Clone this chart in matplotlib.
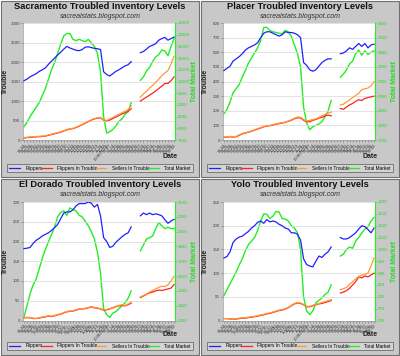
import numpy as np
import matplotlib
matplotlib.use("Agg")
import matplotlib.pyplot as plt
from matplotlib.patches import Rectangle
from matplotlib.lines import Line2D

plt.rcParams['font.family'] = ['Liberation Sans', 'DejaVu Sans']

N = np.nan
dates = ["06-04", "06-11", "06-18", "06-25", "07-02", "07-09", "07-16", "07-23", "07-30", "08-06",
         "08-13", "08-20", "08-27", "09-03", "09-10", "09-17", "09-24", "10-01", "10-08", "10-15",
         "10-22", "10-29", "11-05", "11-12", "11-19", "11-26", "12-03", "2008-01-01", "01-07", "01-14",
         "01-21", "01-28", "02-04", "02-11", "02-18", "02-25", "03-03", "03-10", "03-17", "03-24",
         "03-31", "04-07", "04-14", "04-21", "04-28", "05-05", "05-12", "05-19", "05-26", "06-02"]

# ---------------- Sacramento ----------------
sac_flippers = [1520, 1560, 1620, 1660, 1700, 1760, 1800, 1850, 1940, 2020,
                2100, 2180, 2250, 2330, 2400, 2360, 2330, 2300, 2290, 2320,
                2380, 2390, 2370, 2350, 2340, 2320, 1750, 1680, 1640, 1700,
                1760, 1800, 1850, 1900, 1930, 2010, N, N, 2240, 2270,
                2330, 2400, 2430, 2470, 2560, 2600, 2630, 2560, 2600, 2640]
sac_flip_trouble = [50, 60, 70, 75, 80, 85, 90, 100, 120, 140,
                    160, 180, 200, 230, 260, 280, 290, 320, 350, 390,
                    430, 470, 510, 540, 560, 570, 510, 490, 510, 550,
                    590, 630, 670, 700, 740, 800, N, N, 1000, 1050,
                    1100, 1150, 1200, 1260, 1320, 1380, 1450, 1450, 1520, 1620]
sac_sell_trouble = [60, 70, 80, 85, 90, 95, 100, 110, 130, 150,
                    170, 190, 210, 240, 270, 290, 300, 330, 360, 400,
                    440, 480, 520, 550, 570, 580, 520, 500, 540, 580,
                    620, 660, 700, 740, 780, 870, N, N, 1100, 1180,
                    1250, 1330, 1400, 1480, 1560, 1650, 1720, 1780, 1950, 2150]
sac_total = [8070, 8250, 8500, 8700, 8900, 9100, 9400, 9700, 10100, 10500,
             10800, 11200, 11600, 11950, 12050, 12050, 11800, 11750, 11800, 11750,
             11700, 11800, 11650, 11500, 11200, 10400, 8500, 7800, 7850, 7950,
             8100, 8300, 8400, 8600, 8700, 9100, N, N, 10050, 10200,
             10450, 10600, 10850, 11050, 11150, 11350, 11300, 11100, 11500, 11850]

# ---------------- Placer ----------------
pla_flippers = [475, 490, 505, 540, 555, 570, 590, 615, 630, 640,
                650, 665, 700, 730, 740, 740, 730, 720, 710, 720,
                740, 735, 735, 730, 720, 700, 530, 510, 480, 470,
                480, 505, 530, 545, 555, 555, N, N, 590, 595,
                610, 630, 620, 640, 660, 640, 660, 630, 650, 655]
pla_flip_trouble = [18, 20, 22, 20, 22, 32, 42, 48, 53, 60,
                    68, 75, 82, 90, 95, 98, 102, 108, 112, 116,
                    120, 128, 135, 145, 152, 150, 135, 125, 125, 135,
                    140, 150, 155, 165, 170, 165, N, N, 215, 210,
                    225, 240, 250, 265, 275, 270, 285, 290, 295, 300]
pla_sell_trouble = [20, 22, 25, 22, 25, 35, 45, 50, 55, 62,
                    70, 78, 85, 92, 98, 100, 105, 110, 115, 118,
                    122, 130, 138, 148, 158, 155, 140, 130, 135, 140,
                    145, 155, 165, 175, 185, 190, N, N, 240, 245,
                    260, 275, 290, 305, 320, 345, 350, 355, 370, 400]
pla_total = [2560, 2620, 2720, 2850, 2900, 2960, 3060, 3150, 3250, 3320,
             3390, 3460, 3560, 3740, 3740, 3700, 3680, 3670, 3660, 3650,
             3700, 3680, 3620, 3500, 3380, 3200, 2650, 2430, 2340, 2380,
             2400, 2420, 2450, 2520, 2600, 2740, N, N, 3060, 3100,
             3160, 3240, 3280, 3380, 3430, 3360, 3420, 3370, 3400, 3420]

# ---------------- El Dorado ----------------
eld_flippers = [182, 183, 185, 195, 203, 208, 214, 218, 222, 228,
                235, 243, 258, 272, 275, 275, 280, 290, 296, 296,
                296, 300, 297, 287, 294, 265, 210, 200, 185, 188,
                198, 205, 212, 218, 222, 237, N, N, 265, 272,
                268, 272, 268, 270, 268, 265, 255, 246, 252, 256]
eld_flip_trouble = [7, 7, 7, 5, 5, 6, 8, 9, 11, 10,
                    12, 14, 16, 19, 22, 23, 24, 26, 29, 29,
                    30, 32, 34, 32, 31, 29, 26, 27, 29, 32,
                    35, 37, 38, 37, 40, 44, N, N, 58, 62,
                    66, 70, 72, 75, 77, 76, 78, 80, 82, 91]
eld_sell_trouble = [8, 8, 8, 6, 5, 7, 9, 10, 12, 11,
                    13, 15, 17, 20, 23, 24, 25, 27, 30, 30,
                    31, 33, 35, 33, 32, 30, 27, 28, 30, 33,
                    36, 38, 40, 38, 42, 46, N, N, 60, 63,
                    67, 72, 76, 80, 84, 87, 86, 90, 100, 112]
eld_total = [1320, 1400, 1480, 1540, 1580, 1650, 1720, 1780, 1830, 1880,
             1930, 2000, 2030, 2040, 2010, 2060, 2050, 2040, 2010, 2000,
             1970, 1940, 1900, 1850, 1760, 1620, 1380, 1340, 1320, 1350,
             1360, 1380, 1400, 1420, 1450, 1500, N, N, 1770, 1810,
             1850, 1860, 1870, 1920, 1960, 1940, 1920, 1930, 1920, 1920]

# ---------------- Yolo ----------------
yol_flippers = [132, 135, 145, 165, 172, 176, 178, 183, 188, 195,
                200, 207, 210, 205, 213, 208, 210, 208, 203, 200,
                195, 193, 185, 185, 182, 170, 130, 118, 115, 113,
                125, 136, 133, 140, 145, 155, N, N, 175, 172,
                172, 175, 180, 185, 193, 200, 198, 192, 185, 195]
yol_flip_trouble = [4, 4, 3, 3, 3, 4, 5, 5, 6, 7,
                    8, 9, 11, 12, 14, 15, 17, 19, 21, 22,
                    24, 27, 31, 35, 37, 36, 33, 29, 29, 31,
                    33, 35, 36, 38, 40, 42, N, N, 58, 60,
                    63, 68, 75, 82, 92, 90, 94, 92, 96, 100]
yol_sell_trouble = [4, 4, 3, 3, 4, 5, 6, 6, 7, 8,
                    9, 10, 12, 13, 15, 16, 18, 20, 22, 23,
                    25, 28, 32, 36, 38, 37, 34, 30, 30, 32,
                    34, 36, 38, 40, 42, 44, N, N, 65, 67,
                    70, 76, 82, 88, 93, 96, 97, 100, 115, 132]
yol_total = [805, 830, 855, 880, 905, 935, 960, 995, 1020, 1035,
             1050, 1080, 1120, 1150, 1148, 1130, 1140, 1160, 1158, 1130,
             1128, 1120, 1100, 1090, 1070, 1000, 800, 740, 725, 740,
             775, 785, 795, 810, 820, 850, N, N, 972, 980,
             1000, 1010, 1005, 1035, 1050, 1070, 1085, 1095, 1120, 1135]

panels = [
    dict(title="Sacramento Troubled Inventory Levels", ox=0, oy=0,
         fl=sac_flippers, ft=sac_flip_trouble, st=sac_sell_trouble, tm=sac_total,
         lticks=np.arange(0, 3001, 500), rticks=np.arange(7500, 12501, 500),
         top=23, bot=140),
    dict(title="Placer Troubled Inventory Levels", ox=200, oy=0,
         fl=pla_flippers, ft=pla_flip_trouble, st=pla_sell_trouble, tm=pla_total,
         lticks=np.arange(0, 801, 100), rticks=np.arange(2200, 3801, 200),
         top=23, bot=140),
    dict(title="El Dorado Troubled Inventory Levels", ox=0, oy=178,
         fl=eld_flippers, ft=eld_flip_trouble, st=eld_sell_trouble, tm=eld_total,
         lticks=np.arange(0, 301, 50), rticks=np.arange(1300, 2101, 100),
         top=24, bot=142.5),
    dict(title="Yolo Troubled Inventory Levels", ox=200, oy=178,
         fl=yol_flippers, ft=yol_flip_trouble, st=yol_sell_trouble, tm=yol_total,
         lticks=np.arange(0, 251, 50), rticks=np.arange(700, 1201, 50),
         top=24, bot=142.5),
]

W, H = 400, 356
fig = plt.figure(figsize=(W / 100, H / 100), dpi=100)
fig.patch.set_facecolor('white')

C_BLUE = '#2020ff'
C_RED = '#ff2020'
C_ORANGE = '#ff9933'
C_GREEN = '#22ee22'
C_TM_TXT = '#22dd22'


def fx(px):
    return px / W


def fy(py):
    return 1 - py / H


x = np.arange(len(dates))

for p in panels:
    ox, oy = p['ox'], p['oy']
    fig.add_artist(Rectangle((fx(ox + 1), fy(oy + 177)), 198 / W, 176 / H,
                             transform=fig.transFigure, facecolor='#c8c8c8',
                             edgecolor='#707070', linewidth=0.8, zorder=0))
    fig.text(fx(ox + 100), fy(oy + 6.5), p['title'], ha='center', va='center',
             fontsize=6.7, fontweight='bold', color='#111111')
    fig.text(fx(ox + 100), fy(oy + 16), "sacrealstats.blogspot.com", ha='center', va='center',
             fontsize=5.0, style='italic', color='#333333')

    left, right = ox + 23, ox + 175
    top, bot = oy + p['top'], oy + p['bot']
    ax = fig.add_axes([fx(left), fy(bot), (right - left) / W, (bot - top) / H])
    ax2 = ax.twinx()
    ax2.set_zorder(1)
    ax.set_zorder(2)
    ax.patch.set_visible(False)
    ax2.patch.set_visible(True)
    ax2.patch.set_facecolor('white')

    ax.plot(x, p['fl'], color=C_BLUE, lw=0.9, zorder=3)
    ax.plot(x, p['ft'], color=C_RED, lw=0.9, zorder=3)
    ax.plot(x, p['st'], color=C_ORANGE, lw=0.9, zorder=3)
    lt = p['lticks']
    ax.set_ylim(lt[0], lt[-1])
    ax.set_yticks(lt)
    ax.set_yticklabels([str(v) for v in lt], fontsize=3.2, color='#444444')
    ax.yaxis.grid(True, color='#dddddd', lw=0.6)
    ax.set_axisbelow(True)
    ax.set_xlim(-0.3, len(dates) - 0.7)
    ax.set_xticks(x)
    ax.set_xticklabels(dates, rotation=50, ha='right', rotation_mode='anchor',
                       fontsize=3.0, color='#333333')
    ax.tick_params(axis='both', length=1.2, width=0.4, pad=1, colors='#666666')
    ax.tick_params(axis='y', labelcolor='#444444')
    ax.tick_params(axis='x', labelcolor='#333333')
    ax.spines['top'].set_visible(False)
    ax.spines['right'].set_visible(False)
    ax.spines['left'].set_color('#999999')
    ax.spines['bottom'].set_color('#999999')
    ax.spines['left'].set_linewidth(0.5)
    ax.spines['bottom'].set_linewidth(0.5)

    ax2.plot(x, p['tm'], color=C_GREEN, lw=1.0, zorder=2)
    rt = p['rticks']
    ax2.set_ylim(rt[0], rt[-1])
    ax2.set_yticks(rt)
    ax2.set_yticklabels([str(v) for v in rt], fontsize=3.2, color=C_TM_TXT)
    ax2.tick_params(axis='y', length=1.2, width=0.4, pad=1, colors=C_GREEN, labelcolor=C_TM_TXT)
    ax2.spines['right'].set_color(C_GREEN)
    ax2.spines['right'].set_linewidth(0.8)
    ax2.spines['top'].set_visible(False)
    ax2.spines['left'].set_visible(False)
    ax2.spines['bottom'].set_visible(False)

    fig.text(fx(ox + 5), fy(oy + (top - oy + bot - oy) / 2), "Trouble", rotation=90,
             ha='center', va='center', fontsize=5, fontweight='bold', color='#222222')
    fig.text(fx(ox + 195), fy(oy + (top - oy + bot - oy) / 2), "Total Market", rotation=90,
             ha='center', va='center', fontsize=5, fontweight='bold', color=C_TM_TXT)
    fig.text(fx(ox + 170), fy(oy + 157), "Date", ha='center', va='center',
             fontsize=5, fontweight='bold', color='#222222')

    handles = [Line2D([], [], color=C_BLUE, lw=0.9),
               Line2D([], [], color=C_RED, lw=0.9),
               Line2D([], [], color=C_ORANGE, lw=0.9),
               Line2D([], [], color=C_GREEN, lw=0.9)]
    labels = ["Flippers", "Flippers In Trouble", "Sellers In Trouble", "Total Market"]
    leg = fig.legend(handles, labels, loc='center', ncol=4, mode='expand',
                     bbox_to_anchor=(fx(ox + 5), fy(oy + 173), 190 / W, 10 / H),
                     bbox_transform=fig.transFigure, fontsize=3.4, frameon=True,
                     fancybox=False, edgecolor='#555555', facecolor='#d8d8d8',
                     handlelength=2.2, handletextpad=1.2, borderpad=0.4, columnspacing=1.0)
    leg.get_frame().set_linewidth(0.6)

fig.savefig("out.png", dpi=100)
